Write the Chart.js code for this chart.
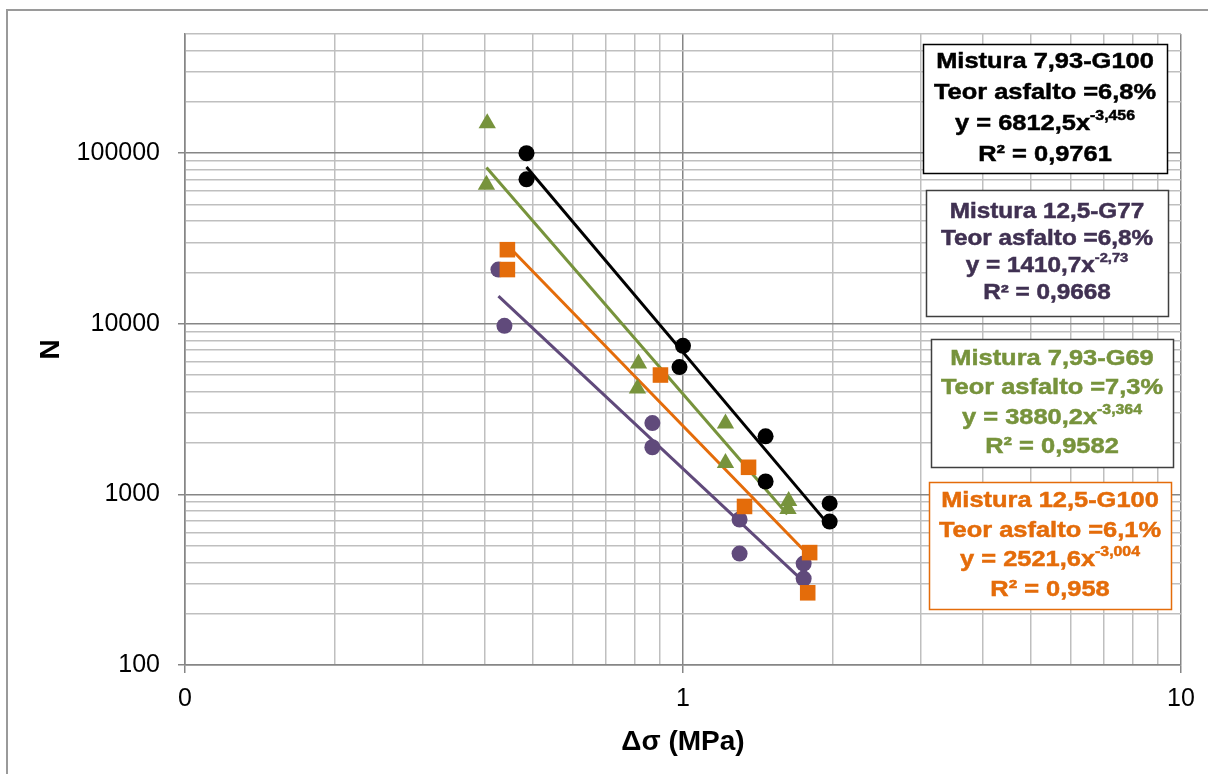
<!DOCTYPE html>
<html>
<head>
<meta charset="utf-8">
<title>Fadiga</title>
<script src="https://cdn.jsdelivr.net/npm/chart.js@4.4.1/dist/chart.umd.min.js"></script>
<style>
  html, body { margin: 0; padding: 0; background: #fff; }
</style>
</head>
<body>
<canvas id="fadiga" width="1208" height="774"></canvas>
<script>
// Mistura 7,93-G100 (preto)
const g100x = [0.485, 0.485, 1.0, 0.984, 1.465, 1.465, 1.97, 1.97];
const g100y = [100000, 70300, 7430, 5580, 2190, 1190, 885, 693];
// Mistura 12,5-G77 (roxo)
const g77x = [0.426, 0.438, 0.868, 0.868, 1.299, 1.299, 1.747, 1.747];
const g77y = [20800, 9730, 2620, 1890, 713, 450, 393, 321];
// Mistura 7,93-G69 (verde)
const g69x = [0.4045, 0.403, 0.814, 0.81, 1.217, 1.217, 1.63, 1.625];
const g69y = [150000, 65300, 5860, 4180, 2600, 1530, 915, 822];
// Mistura 12,5-G100 (laranja)
const g125x = [0.444, 0.444, 0.901, 1.354, 1.329, 1.796, 1.78];
const g125y = [27200, 20800, 5010, 1442, 850, 456, 265];

// linhas de tendencia (extremos)
const g100TrendX = [0.485, 1.97];
const g100TrendY = [83060, 654];
const g77TrendX = [0.426, 1.747];
const g77TrendY = [14530, 308];
const g69TrendX = [0.403, 1.62];
const g69TrendY = [82530, 766];
const g125TrendX = [0.444, 1.796];
const g125TrendY = [28900, 434];

// eixos
const xMajorTicks = [0.1, 1, 10];
const xTickLabels = ['0', '1', '10'];
const yMajorTicks = [100, 1000, 10000, 100000];
const yTickLabels = ['100', '1000', '10000', '100000'];

// textos das caixas
const boxTitles = ['Mistura 7,93-G100', 'Mistura 12,5-G77', 'Mistura 7,93-G69', 'Mistura 12,5-G100'];
const boxTeor = ['Teor asfalto =6,8%', 'Teor asfalto =6,8%', 'Teor asfalto =7,3%', 'Teor asfalto =6,1%'];
const boxCoef = ['6812,5', '1410,7', '3880,2', '2521,6'];
const boxExp = ['-3,456', '-2,73', '-3,364', '-3,004'];
const boxR2 = ['0,9761', '0,9668', '0,9582', '0,958'];

const BLACK = '#000000', PURPLE = '#604A7B', GREEN = '#77933C', ORANGE = '#E46C0A';
const FONT = '"Liberation Sans", Arial, Helvetica, sans-serif';

function pts(xs, ys) { return xs.map((x, i) => ({x: x, y: ys[i]})); }

function logGrid(from, to) {
  const out = [];
  for (let d = from; d < to; d *= 10) {
    for (let k = 1; k <= 9; k++) out.push(Number((d * k).toPrecision(6)));
  }
  out.push(to);
  return out;
}
const xGrid = logGrid(0.1, 10);
const yGrid = logGrid(100, 100000).concat([200000, 300000, 400000, 500000]);

function findMajor(list, v) {
  return list.findIndex(m => Math.abs(v - m) / m < 1e-6);
}

function scatterSet(xs, ys, color, style, r, order) {
  return {
    data: pts(xs, ys), pointStyle: style, pointRadius: r, pointHoverRadius: r,
    backgroundColor: color, borderColor: color, borderWidth: 0, showLine: false, order: order
  };
}
function trendSet(xs, ys, color, order) {
  return {
    data: pts(xs, ys), showLine: true, borderColor: color, borderWidth: 3,
    pointRadius: 0, fill: false, order: order
  };
}

const boxes = [
  {x: 923, y: 44, w: 244, h: 129, step: 31, size: 22.5, color: BLACK, border: '#000000'},
  {x: 926, y: 190, w: 242, h: 126, step: 27, size: 21.5, color: '#403152', border: '#3F3F3F'},
  {x: 931, y: 339, w: 242, h: 128, step: 29.5, size: 22.5, color: GREEN, border: '#3F3F3F'},
  {x: 929, y: 482, w: 242, h: 127, step: 29.5, size: 22.5, color: ORANGE, border: ORANGE}
];
const SX = 1.13;

function stretchedText(ctx, parts, cx, cy) {
  // parts: [{text, font, dy}]
  let total = 0;
  parts.forEach(p => { ctx.font = p.font; p.w = ctx.measureText(p.text).width; total += p.w; });
  ctx.save();
  ctx.translate(cx, cy);
  ctx.scale(SX, 1);
  let x = -total / 2;
  parts.forEach(p => {
    ctx.font = p.font;
    ctx.fillText(p.text, x, p.dy || 0);
    ctx.strokeText(p.text, x, p.dy || 0);
    x += p.w;
  });
  ctx.restore();
}

const decor = {
  id: 'decor',
  afterDraw(chart) {
    const ctx = chart.ctx;
    ctx.save();
    // moldura externa
    ctx.strokeStyle = '#9A9A9A';
    ctx.lineWidth = 2;
    ctx.beginPath();
    ctx.moveTo(7, 774);
    ctx.lineTo(7, 10);
    ctx.lineTo(1208, 10);
    ctx.stroke();

    boxes.forEach((b, i) => {
      ctx.fillStyle = '#ffffff';
      ctx.fillRect(b.x, b.y, b.w, b.h);
      ctx.strokeStyle = b.border;
      ctx.lineWidth = 1.5;
      ctx.strokeRect(b.x + 0.5, b.y + 0.5, b.w, b.h);
      ctx.fillStyle = b.color;
      ctx.strokeStyle = b.color;
      ctx.lineWidth = 0.5;
      ctx.textAlign = 'left';
      ctx.textBaseline = 'middle';
      const f = 'bold ' + b.size + 'px ' + FONT;
      const fs = 'bold ' + Math.round(b.size * 0.62) + 'px ' + FONT;
      const cx = b.x + b.w / 2;
      const y0 = b.y + b.h / 2 - 1.5 * b.step;
      stretchedText(ctx, [{text: boxTitles[i], font: f}], cx, y0);
      stretchedText(ctx, [{text: boxTeor[i], font: f}], cx, y0 + b.step);
      stretchedText(ctx, [
        {text: 'y = ' + boxCoef[i] + 'x', font: f},
        {text: boxExp[i], font: fs, dy: -b.size * 0.36}
      ], cx, y0 + 2 * b.step);
      stretchedText(ctx, [{text: 'R² = ' + boxR2[i], font: f}], cx, y0 + 3 * b.step);
    });
    ctx.restore();
  }
};

const ctx = document.getElementById('fadiga').getContext('2d');
const myChart = new Chart(ctx, {
  type: 'scatter',
  data: {
    datasets: [
      scatterSet(g125x, g125y, ORANGE, 'rect', 11, 1),
      scatterSet(g100x, g100y, BLACK, 'circle', 8, 2),
      scatterSet(g69x, g69y, GREEN, 'triangle', 10, 3),
      scatterSet(g77x, g77y, PURPLE, 'circle', 8, 4),
      trendSet(g100TrendX, g100TrendY, BLACK, 5),
      trendSet(g69TrendX, g69TrendY, GREEN, 6),
      trendSet(g125TrendX, g125TrendY, ORANGE, 7),
      trendSet(g77TrendX, g77TrendY, PURPLE, 8)
    ]
  },
  options: {
    responsive: false,
    animation: false,
    devicePixelRatio: 1,
    layout: { padding: { left: 0, right: 27, top: 34, bottom: 0 } },
    plugins: { legend: { display: false }, tooltip: { enabled: false } },
    scales: {
      x: {
        type: 'logarithmic',
        position: 'bottom',
        min: 0.1,
        max: 10,
        afterBuildTicks: s => { s.ticks = xGrid.map(v => ({value: v})); },
        afterFit: s => { s.height = 109; },
        ticks: {
          autoSkip: false, maxRotation: 0, padding: 11, color: '#000',
          font: { family: FONT, size: 25 },
          callback: v => { const i = findMajor(xMajorTicks, v); return i >= 0 ? xTickLabels[i] : ''; }
        },
        grid: {
          lineWidth: 1.5, tickLength: 8,
          color: c => findMajor(xMajorTicks, c.tick.value) >= 0 ? '#868686' : '#BFBFBF',
          tickColor: c => findMajor(xMajorTicks, c.tick.value) >= 0 ? '#868686' : 'rgba(0,0,0,0)'
        },
        border: { color: '#868686', width: 1.5 },
        title: {
          display: true, text: 'Δσ (MPa)', color: '#000',
          font: { family: FONT, size: 28, weight: 'bold' },
          padding: { top: 0, bottom: 15 }
        }
      },
      y: {
        type: 'logarithmic',
        position: 'left',
        min: 100,
        max: 500000,
        afterBuildTicks: s => { s.ticks = yGrid.map(v => ({value: v})); },
        afterFit: s => { s.width = 185; },
        ticks: {
          autoSkip: false, padding: 18, color: '#000',
          font: { family: FONT, size: 25 },
          callback: v => { const i = findMajor(yMajorTicks, v); return i >= 0 ? yTickLabels[i] : ''; }
        },
        grid: {
          lineWidth: 1.5, tickLength: 7,
          color: c => findMajor(yMajorTicks, c.tick.value) >= 0 ? '#868686' : '#BFBFBF',
          tickColor: c => findMajor(yMajorTicks, c.tick.value) >= 0 ? '#868686' : 'rgba(0,0,0,0)'
        },
        border: { color: '#868686', width: 1.5 },
        title: {
          display: true, text: 'N', color: '#000',
          font: { family: FONT, size: 28, weight: 'bold' },
          padding: { top: 34, bottom: 0 }
        }
      }
    }
  },
  plugins: [decor]
});
</script>
</body>
</html>
